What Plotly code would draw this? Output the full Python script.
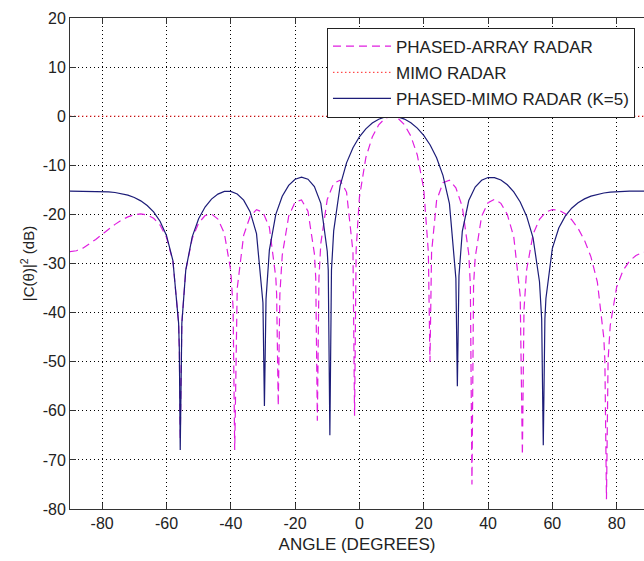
import plotly.graph_objects as go

# ---- data ----
# PHASED-MIMO RADAR (K=5)
mimo_k5_angle = [-90, -88, -86, -84, -82, -80, -78, -76, -74, -72, -70, -68, -66, -64, -62, -60, -58,
                 -56.22, -56, -55.72, -55.22, -54, -52, -50, -48, -46, -44, -42, -40, -38, -36, -34, -32,
                 -30, -29.54, -29.04, -28, -26, -24, -22, -20, -18, -16, -14, -12, -10, -9.69, -9.19, -8.69,
                 -8, -6, -4, -2, 0, 2, 4, 6, 8, 10, 12, 14, 16, 18, 20, 22, 24, 26, 28, 30, 30.46, 30.96,
                 32, 34, 36, 38, 40, 42, 44, 46, 48, 50, 52, 54, 56, 56.68, 57.18, 57.68, 58, 60, 62, 64,
                 66, 68, 70, 72, 74, 76, 78, 80, 82, 84, 86, 88, 90]
mimo_k5_db = [-15.25, -15.25, -15.25, -15.26, -15.28, -15.32, -15.40, -15.54, -15.76, -16.09, -16.57, -17.24,
              -18.19, -19.50, -21.40, -24.29, -29.40,
              -42.2, -47.5, -68.0, -42.2, -31.33, -24.58, -20.90, -18.51, -16.89, -15.86, -15.33, -15.31,
              -15.85, -17.10, -19.45, -23.93,
              -38.0, -59.0, -37.2, -27.27, -19.99, -16.30, -14.09, -12.85, -12.43, -12.83, -14.33, -17.74,
              -27.51, -31.35, -65.0, -31.35,
              -23.36, -14.17, -9.50, -6.41, -4.19, -2.57, -1.40, -0.61, -0.15, 0.0, -0.15, -0.59, -1.34,
              -2.43, -3.91, -5.86, -8.47, -12.09, -17.80, -33.02, -55.0, -32.5,
              -23.44, -17.18, -14.43, -13.05, -12.48, -12.50, -13.00, -13.96, -15.42, -17.46, -20.36,
              -24.78, -33.71, -41.3, -67.0, -41.3, -37.13, -26.90, -22.78, -20.35,
              -18.74, -17.63, -16.84, -16.29, -15.90, -15.64, -15.47, -15.37, -15.31, -15.28, -15.26,
              -15.26, -15.25]

# PHASED-ARRAY RADAR
phased_angle = [-90, -88, -86, -84, -82, -80, -78, -76, -74, -72, -70, -68, -66, -64, -62, -60, -58,
                -56.22, -56, -55.72, -55.22, -54, -52, -50, -48, -46, -44, -42, -40, -39.28, -38.78, -38.28,
                -38, -36, -34, -32, -30, -28, -26, -25.74, -25.24, -24.74, -24, -22, -20, -18, -16, -14,
                -13.58, -13.08, -12.58, -12, -10, -8, -6, -4, -2, -1.51, -1.01, 0, 2, 4, 6, 8, 10, 12,
                14, 16, 18, 20, 21.44, 21.94, 22, 22.44, 24, 26, 28, 30, 32, 34, 34.5, 35.0, 35.5, 36,
                38, 40, 42, 44, 46, 48, 50, 50.68, 51.18, 52, 54, 56, 58, 60, 62, 64, 66, 68, 70, 72, 74,
                76, 76.33, 76.83, 77.33, 78, 80, 82, 84, 86, 88, 90]
phased_db = [-27.58, -27.40, -26.87, -26.08, -25.11, -24.06, -23.01, -22.03, -21.18, -20.50, -20.05, -19.89,
             -20.10, -20.78, -22.16, -24.66, -29.51,
             -42.2, -47.49, -66.0, -42.2, -31.40, -24.92, -21.77, -20.23, -19.93, -20.94, -23.85, -31.49,
             -39.0, -68.0, -39.0,
             -35.05, -24.27, -20.42, -19.04, -19.57, -22.62, -32.81, -36.3, -59.0, -36.3, -28.32, -20.38,
             -17.46, -17.07, -19.35, -27.99,
             -32.9, -62.0, -32.9, -25.91, -16.96, -13.65, -13.05, -15.45, -27.62, -61.0, -27.1, -16.52,
             -8.42, -4.23, -1.76, -0.43, 0.0, -0.42,
             -1.72, -4.06, -7.90, -14.78, -27.7, -50.0, -46.31, -27.7, -17.16, -13.53, -13.05, -14.58,
             -18.45, -28.06, -34.4, -75.0, -34.4, -28.79,
             -20.37, -17.61, -16.95, -17.75, -20.03, -24.57, -36.56, -69.0, -39.4, -31.30, -24.05, -21.00,
             -19.53, -19.01, -19.15, -19.86, -21.08, -22.85, -25.28, -28.64, -33.78,
             -45.12, -49.7, -78.0, -49.7, -42.60, -34.78, -31.40, -29.49, -28.37, -27.77, -27.58]

# MIMO RADAR (flat 0 dB)
mimo_angle = [-90, 90]
mimo_db = [0, 0]

x_ticks = [-80, -60, -40, -20, 0, 20, 40, 60, 80]
x_tick_labels = ["-80", "-60", "-40", "-20", "0", "20", "40", "60", "80"]
y_ticks = [-80, -70, -60, -50, -40, -30, -20, -10, 0, 10, 20]
y_tick_labels = ["-80", "-70", "-60", "-50", "-40", "-30", "-20", "-10", "0", "10", "20"]

series_names = ["PHASED-ARRAY RADAR", "MIMO RADAR", "PHASED-MIMO RADAR (K=5)"]

FONT = "Liberation Sans, Arial, sans-serif"

fig = go.Figure()
fig.add_trace(go.Scatter(x=phased_angle, y=phased_db, mode="lines", name=series_names[0],
                         legendgroup="a",
                         line=dict(color="#e01ee0", width=1.2, dash="8px,5px")))
fig.add_trace(go.Scatter(x=mimo_angle, y=mimo_db, mode="lines", name=series_names[1],
                         legendgroup="b",
                         line=dict(color="#ff2020", width=1, dash="1.5px,2.5px")))
fig.add_trace(go.Scatter(x=mimo_k5_angle, y=mimo_k5_db, mode="lines", name=series_names[2],
                         legendgroup="c",
                         line=dict(color="#1c1c78", width=1.2)))

axis_common = dict(
    showline=True, linecolor="#333333", linewidth=1,
    ticks="inside", ticklen=6, tickcolor="#333333",
    showgrid=True, gridcolor="#000000", gridwidth=1, griddash="1px,3px",
    zeroline=False,
    tickfont=dict(family=FONT, size=16, color="#222222"),
)

fig.update_layout(
    width=644, height=561,
    margin=dict(l=70, r=0, t=18, b=52),
    paper_bgcolor="white", plot_bgcolor="white",
    font=dict(family=FONT, size=16, color="#222222"),
    showlegend=True,
    legend=dict(
        x=0.4477, y=0.797, xanchor="left", yanchor="bottom",
        bgcolor="white", bordercolor="#222222", borderwidth=1,
        font=dict(family=FONT, size=17, color="#222222"),
        tracegroupgap=1, itemwidth=58,
    ),
    xaxis=dict(axis_common, range=[-90, 88.5], tickvals=x_ticks, ticktext=x_tick_labels, mirror="ticks",
               title=dict(text="ANGLE (DEGREES)", font=dict(family=FONT, size=17, color="#222222"),
                          standoff=6)),
    yaxis=dict(axis_common, range=[-80, 20], tickvals=y_ticks, ticktext=y_tick_labels, mirror=False,
               title=dict(text="|C(θ)|<sup>2</sup> (dB)", font=dict(family=FONT, size=15, color="#222222"),
                          standoff=4)),
)

fig.write_html("out.html", config={"displayModeBar": False},
               post_script="document.body.style.margin='0';document.body.style.overflow='hidden';")
